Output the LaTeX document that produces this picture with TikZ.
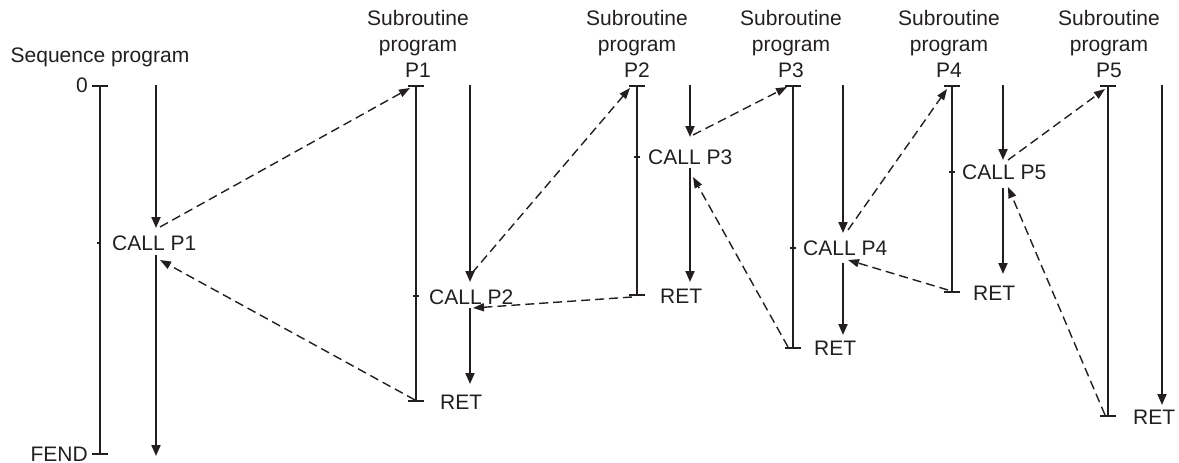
\documentclass[tikz,border=0pt]{standalone}
\usepackage{fontspec}
\setmainfont{Liberation Sans}
\usepackage{xcolor}
\usepackage{tikz}
\usetikzlibrary{arrows.meta}
\definecolor{ink}{HTML}{231F20}

\tikzset{
  lbl/.style={font=\fontsize{21}{26}\selectfont, text=ink, inner sep=0pt},
  sub/.style={lbl, anchor=south, align=center},
  bar/.style={draw=ink, line width=2pt, {Bar[width=16pt]}-{Bar[width=16pt]}},
  flow/.style={draw=ink, line width=2pt, -{Triangle[length=11pt,width=9pt]}},
  jump/.style={draw=ink, line width=1.4pt, dash pattern=on 9pt off 5pt, -{Triangle[length=11pt,width=8pt]}},
  tickmark/.style={draw=ink, line width=1.2pt}
}

\begin{document}
\begin{tikzpicture}[x=1pt,y=-1pt]
        \useasboundingbox (0,0) rectangle (1179,463);

        % program bars
        \coordinate (s0)  at (100,85);  \coordinate (s1)  at (100,455);
        \coordinate (p1a) at (416,85);  \coordinate (p1b) at (416,402);
        \coordinate (p2a) at (637,85);  \coordinate (p2b) at (637,296);
        \coordinate (p3a) at (793,85);  \coordinate (p3b) at (793,349);
        \coordinate (p4a) at (952,85);  \coordinate (p4b) at (952,293);
        \coordinate (p5a) at (1108,85); \coordinate (p5b) at (1108,417);

        \draw[bar] (s0) -- (s1);
        \draw[bar] (p1a) -- (p1b);
        \draw[bar] (p2a) -- (p2b);
        \draw[bar] (p3a) -- (p3b);
        \draw[bar] (p4a) -- (p4b);
        \draw[bar] (p5a) -- (p5b);

        % call ticks
        \coordinate (t0) at (100,243);
        \coordinate (t1) at (416,296);
        \coordinate (t2) at (637,157);
        \coordinate (t3) at (793,248);
        \coordinate (t4) at (952,172);
        \draw[tickmark] ([xshift=-3pt]t0) -- (t0);
        \draw[tickmark] ([xshift=-3pt]t1) -- ([xshift=3pt]t1);
        \draw[tickmark] ([xshift=-3pt]t2) -- ([xshift=3pt]t2);
        \draw[tickmark] ([xshift=-3pt]t3) -- ([xshift=3pt]t3);
        \draw[tickmark] ([xshift=-3pt]t4) -- ([xshift=3pt]t4);

        % headings
        \node[lbl, anchor=base] (seq) at (100,62) {Sequence program};
        \node[lbl, anchor=east] (zero) at (88,85) {0};
        \node[lbl, anchor=east] (fend) at (88,454) {FEND};
        \node[sub] (sub1) at (418,78)  {Subroutine\\program\\P1};
        \node[sub] (sub2) at (637,78)  {Subroutine\\program\\P2};
        \node[sub] (sub3) at (791,78)  {Subroutine\\program\\P3};
        \node[sub] (sub4) at (949,78)  {Subroutine\\program\\P4};
        \node[sub] (sub5) at (1109,78) {Subroutine\\program\\P5};

        % steps
        \node[lbl, anchor=west] (call1) at (112,243) {CALL P1};
        \node[lbl, anchor=west] (call2) at (429,297) {CALL P2};
        \node[lbl, anchor=west] (call3) at (648,157) {CALL P3};
        \node[lbl, anchor=west] (call4) at (803,248) {CALL P4};
        \node[lbl, anchor=west] (call5) at (962,172) {CALL P5};
        \node[lbl, anchor=west] (ret1) at (440,402)  {RET};
        \node[lbl, anchor=west] (ret2) at (660,296)  {RET};
        \node[lbl, anchor=west] (ret3) at (814,348)  {RET};
        \node[lbl, anchor=west] (ret4) at (973,293)  {RET};
        \node[lbl, anchor=west] (ret5) at (1133,417) {RET};

        % execution flow
        \coordinate (f0a) at (156,85);  \coordinate (f0b) at (156,228);
        \coordinate (f0c) at (156,255); \coordinate (f0d) at (156,456);
        \coordinate (f1a) at (470,85);  \coordinate (f1b) at (470,282);
        \coordinate (f1c) at (470,308); \coordinate (f1d) at (470,384);
        \coordinate (f2a) at (690,85);  \coordinate (f2b) at (690,137);
        \coordinate (f2c) at (690,168); \coordinate (f2d) at (690,282);
        \coordinate (f3a) at (843,85);  \coordinate (f3b) at (843,233);
        \coordinate (f3c) at (843,263); \coordinate (f3d) at (843,335);
        \coordinate (f4a) at (1003,85); \coordinate (f4b) at (1003,160);
        \coordinate (f4c) at (1003,188); \coordinate (f4d) at (1003,274);
        \coordinate (f5a) at (1162,85); \coordinate (f5b) at (1162,405);

        \draw[flow] (f0a) -- (f0b);  \draw[flow] (f0c) -- (f0d);
        \draw[flow] (f1a) -- (f1b);  \draw[flow] (f1c) -- (f1d);
        \draw[flow] (f2a) -- (f2b);  \draw[flow] (f2c) -- (f2d);
        \draw[flow] (f3a) -- (f3b);  \draw[flow] (f3c) -- (f3d);
        \draw[flow] (f4a) -- (f4b);  \draw[flow] (f4c) -- (f4d);
        \draw[flow] (f5a) -- (f5b);

        % calls and returns
        \draw[jump] ([shift={(4,-1)}]f0b) -- ([shift={(-6,3)}]p1a);
        \draw[jump] ([shift={(-1,-2)}]p1b) -- ([shift={(4,5)}]f0c);
        \draw[jump] ([shift={(2,-9)}]f1b) -- ([shift={(-7,3)}]p2a);
        \draw[jump] ([shift={(-5,1)}]p2b) -- ([shift={(3,0)}]f1c);
        \draw[jump] ([shift={(3,-2)}]f2b) -- ([shift={(-6,2)}]p3a);
        \draw[jump] ([shift={(-5,-2)}]p3b) -- ([shift={(3,9)}]f2c);
        \draw[jump] ([shift={(5,-3)}]f3b) -- ([shift={(-5,4)}]p4a);
        \draw[jump] ([shift={(-4,-3)}]p4b) -- ([shift={(5,-3)}]f3c);
        \draw[jump] ([shift={(5,0)}]f4b) -- ([shift={(-3,4)}]p5a);
        \draw[jump] ([shift={(-3,-2)}]p5b) -- ([shift={(5,-1)}]f4c);
\end{tikzpicture}
\end{document}
